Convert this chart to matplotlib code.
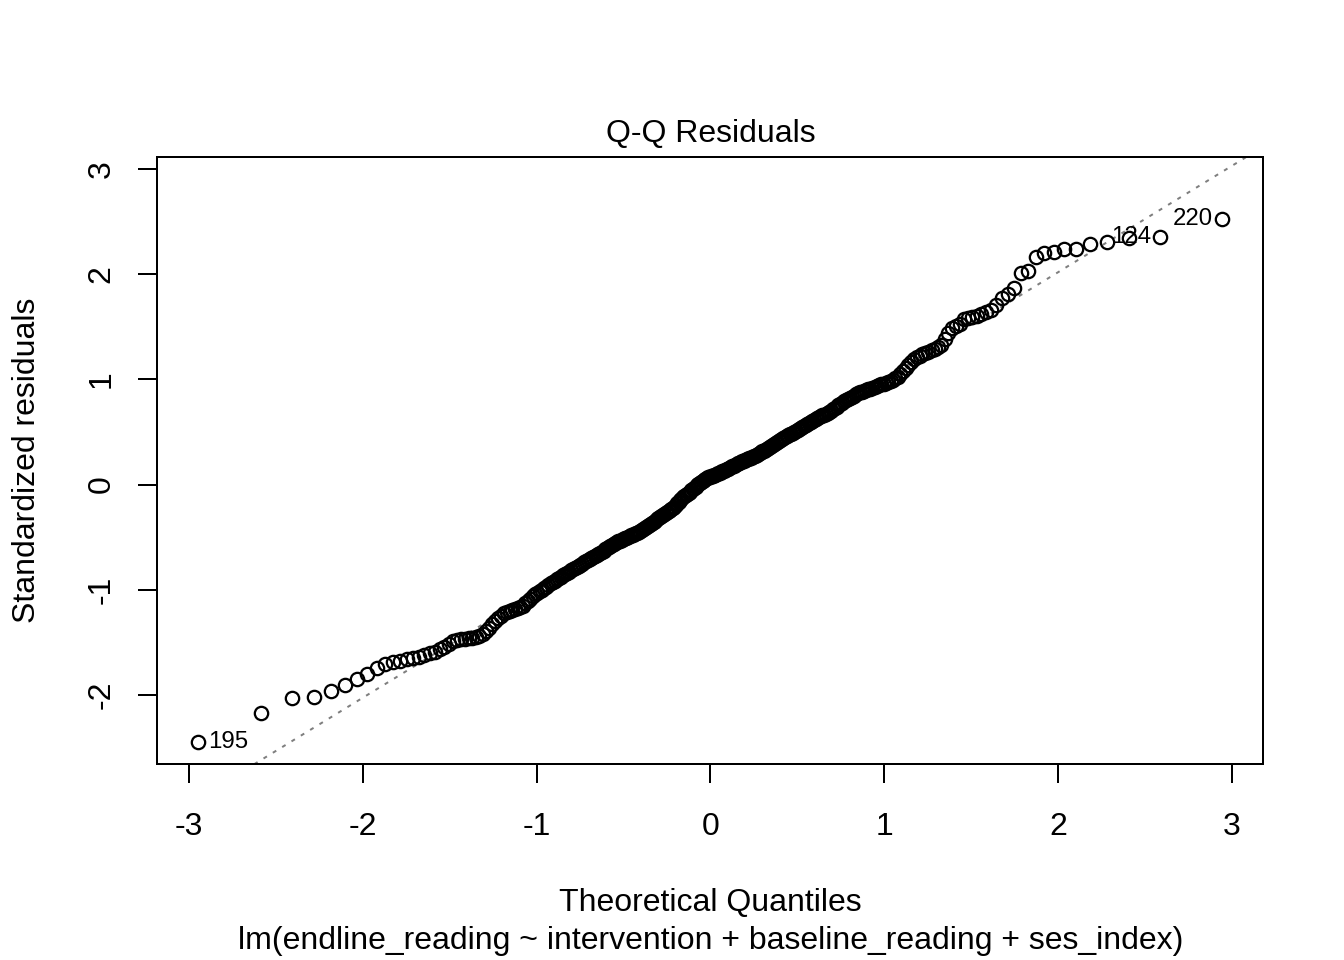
import matplotlib
matplotlib.use("Agg")
import matplotlib.pyplot as plt
import numpy as np
from statistics import NormalDist

# ---- data: sorted standardized residuals ----
residuals = [
    -2.445, -2.17, -2.025, -2.02, -1.96, -1.91, -1.85, -1.80, -1.74, -1.71, -1.69, -1.675, -1.66, -1.645,
    -1.635, -1.62, -1.605, -1.59, -1.565, -1.54, -1.515, -1.49, -1.475, -1.47, -1.467, -1.462, -1.456, -1.45, -1.44, -1.42,
    -1.39, -1.365, -1.33, -1.30, -1.27, -1.245, -1.225, -1.21, -1.20, -1.19, -1.18, -1.17, -1.16, -1.15, -1.13, -1.11,
    -1.085, -1.06, -1.045, -1.03,
    -1.015, -1.00, -0.985, -0.97, -0.955, -0.94, -0.928, -0.915, -0.90, -0.887, -0.875, -0.863, -0.851, -0.84, -0.828,
    -0.817, -0.806, -0.795, -0.784, -0.773, -0.762, -0.752, -0.741, -0.731, -0.72, -0.71, -0.699, -0.689, -0.679, -0.669,
    -0.658, -0.648, -0.637, -0.627, -0.616, -0.606, -0.596, -0.586, -0.577, -0.567, -0.558, -0.549, -0.541, -0.533, -0.526,
    -0.519, -0.512, -0.505, -0.498, -0.491, -0.484, -0.477, -0.470, -0.463, -0.456, -0.449, -0.442, -0.434, -0.426, -0.417,
    -0.408, -0.398, -0.388, -0.377, -0.366, -0.354, -0.342, -0.331, -0.32, -0.31, -0.30, -0.29, -0.281, -0.272, -0.263,
    -0.254, -0.244, -0.233, -0.222, -0.21, -0.195, -0.18, -0.165, -0.15, -0.135, -0.122, -0.11, -0.10, -0.09, -0.08,
    -0.068, -0.056, -0.044, -0.032, -0.02, -0.008, 0.004, 0.016, 0.028, 0.038, 0.047, 0.055, 0.062, 0.068, 0.073,
    0.078, 0.083, 0.089, 0.095, 0.101, 0.107, 0.113, 0.119, 0.125, 0.131, 0.137, 0.144, 0.151, 0.158, 0.165,
    0.172, 0.18, 0.188, 0.196, 0.203, 0.209, 0.215, 0.221, 0.227, 0.233, 0.239, 0.245, 0.251, 0.257, 0.263,
    0.269, 0.275, 0.283, 0.291, 0.299, 0.307, 0.315, 0.323, 0.331, 0.339, 0.347, 0.355, 0.363, 0.372, 0.381,
    0.391, 0.401, 0.411, 0.421, 0.43, 0.44, 0.449, 0.458, 0.467, 0.476, 0.485, 0.494, 0.503, 0.512, 0.521,
    0.53, 0.539, 0.549, 0.558, 0.567, 0.577, 0.586, 0.595, 0.605, 0.614, 0.624, 0.634, 0.642, 0.65, 0.658,
    0.665, 0.672, 0.68, 0.692, 0.704, 0.716, 0.728, 0.74, 0.752, 0.765, 0.778, 0.79, 0.802, 0.813, 0.824,
    0.835, 0.846, 0.857, 0.867, 0.876,
    0.884, 0.891, 0.898, 0.905, 0.912, 0.92, 0.928, 0.936, 0.944, 0.952, 0.96, 0.968, 0.977, 0.987, 0.998,
    1.01, 1.025, 1.055, 1.08, 1.11, 1.14, 1.165, 1.19, 1.21, 1.225, 1.237, 1.248, 1.26, 1.275, 1.29,
    1.305, 1.33, 1.38, 1.44, 1.49, 1.51, 1.53, 1.57, 1.58, 1.593, 1.605, 1.626, 1.645, 1.66, 1.705,
    1.769, 1.816, 1.864, 2.007, 2.029, 2.165, 2.197, 2.207, 2.238, 2.238, 2.286, 2.308, 2.34, 2.355, 2.524,
]
id_labels = ["195", "124", "220"]
id_ranks = [0, 308, 309]          # positions in the sorted residuals
x_ticks = [-3, -2, -1, 0, 1, 2, 3]
y_ticks = [-2, -1, 0, 1, 2, 3]
title = "Q-Q Residuals"
xlabel = "Theoretical Quantiles"
sublabel = "lm(endline_reading ~ intervention + baseline_reading + ses_index)"
ylabel = "Standardized residuals"

# ---- theoretical normal quantiles (ppoints) ----
n = len(residuals)
nd = NormalDist()
theoretical = [nd.inv_cdf((i + 0.5) / n) for i in range(n)]

plt.rcParams["font.family"] = ["Liberation Sans", "DejaVu Sans"]
plt.rcParams["axes.unicode_minus"] = False
plt.rcParams["lines.scale_dashes"] = False

W, H = 1344, 960
fig = plt.figure(figsize=(7, 5), dpi=192)
left, right, top, bottom = 157.4, 1263.4, 157.4, 764.2
ax = fig.add_axes([left / W, 1 - bottom / H, (right - left) / W, (bottom - top) / H])

ax.plot(theoretical, residuals, "o", mfc="none", mec="black", ms=5.0, mew=0.85, zorder=3)

# qqline through the quartiles
q1, q3 = np.quantile(residuals, [0.25, 0.75])
z1, z3 = nd.inv_cdf(0.25), nd.inv_cdf(0.75)
slope = (q3 - q1) / (z3 - z1)
intercept = q1 - slope * z1
ax.axline((0, intercept), slope=slope, color="#7f7f7f", lw=0.75,
          linestyle=(0, (1.5, 2.6)), zorder=2)

# limits like R
xr = (min(theoretical), max(theoretical))
dx = (xr[1] - xr[0]) * 0.04
ax.set_xlim(xr[0] - dx, xr[1] + dx)
ylo, yhi = min(residuals), max(residuals)
yhi = yhi + (yhi - ylo) * 0.075
dy = (yhi - ylo) * 0.04
ax.set_ylim(ylo - dy, yhi + dy)

# point id labels
mid = (xr[0] + xr[1]) / 2
for lab, r in zip(id_labels, id_ranks):
    xv, yv = theoretical[r], residuals[r]
    if xv > mid:
        ax.annotate(lab, (xv, yv), xytext=(-3.5, 0), textcoords="offset points",
                    ha="right", va="center", fontsize=9, annotation_clip=False)
    else:
        ax.annotate(lab, (xv, yv), xytext=(3.5, 0), textcoords="offset points",
                    ha="left", va="center", fontsize=9, annotation_clip=False)

ax.set_xticks(x_ticks)
ax.set_xticklabels([str(t) for t in x_ticks])
ax.set_yticks(y_ticks)
ax.set_yticklabels([str(t) for t in y_ticks])
ax.tick_params(direction="out", length=7.2, width=0.75, labelsize=12, colors="black")
ax.tick_params(axis="x", pad=10.7)
ax.tick_params(axis="y", pad=8, labelrotation=90)
for lbl in ax.get_yticklabels():
    lbl.set_va("center")
for s in ax.spines.values():
    s.set_linewidth(0.75)
    s.set_color("black")

fig.text(710.5 / W, 1 - 134 / H, title, ha="center", va="center", fontsize=12)
fig.text(710.5 / W, 1 - 903 / H, xlabel, ha="center", va="center", fontsize=12)
fig.text(710.5 / W, 1 - 941 / H, sublabel, ha="center", va="center", fontsize=12)
fig.text(27 / W, 1 - 460.8 / H, ylabel, ha="center", va="center", rotation=90, fontsize=12)

fig.savefig("out.png", dpi=192, facecolor="white")
